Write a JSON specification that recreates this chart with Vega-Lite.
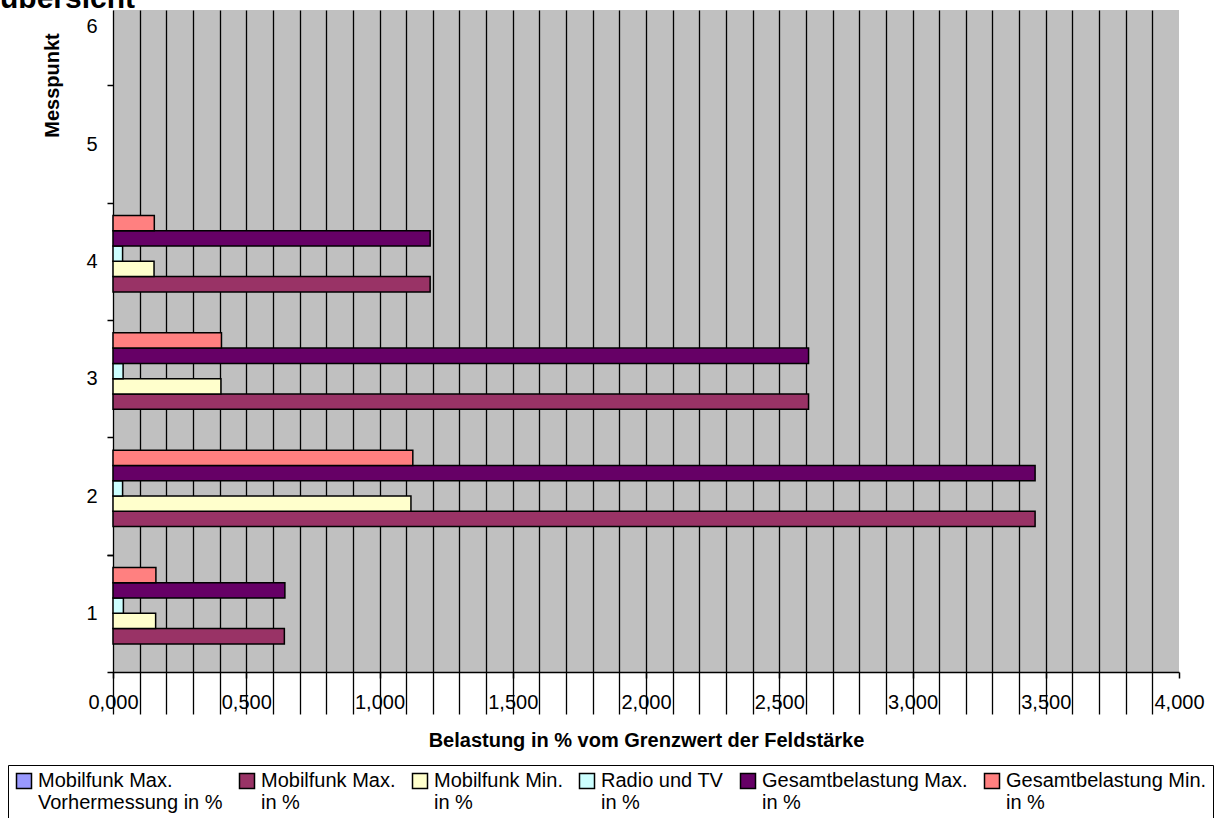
{
  "$schema": "https://vega.github.io/schema/vega-lite/v6.json",
  "width": 1066,
  "height": 662,
  "autosize": {"type": "none"},
  "padding": {"left": 113, "top": 10, "right": 39, "bottom": 146},
  "background": "white",
  "title": {"text": "übersicht", "anchor": "start", "frame": "group", "orient": "top", "baseline": "bottom", "offset": 0, "dx": -113, "dy": 44, "fontSize": 30, "fontWeight": "bold", "font": "Liberation Sans", "color": "black"},
  "config": {"font": "Liberation Sans", "view": {"fill": "#c0c0c0", "stroke": null}},
  "data": {"values": [
    {"Messpunkt": 1, "Reihe": "Mobilfunk Max. in %", "Belastung": 0.643},
    {"Messpunkt": 1, "Reihe": "Mobilfunk Min. in %", "Belastung": 0.160},
    {"Messpunkt": 1, "Reihe": "Radio und TV in %", "Belastung": 0.039},
    {"Messpunkt": 1, "Reihe": "Gesamtbelastung Max. in %", "Belastung": 0.645},
    {"Messpunkt": 1, "Reihe": "Gesamtbelastung Min. in %", "Belastung": 0.161},
    {"Messpunkt": 2, "Reihe": "Mobilfunk Max. in %", "Belastung": 3.46},
    {"Messpunkt": 2, "Reihe": "Mobilfunk Min. in %", "Belastung": 1.118},
    {"Messpunkt": 2, "Reihe": "Radio und TV in %", "Belastung": 0.036},
    {"Messpunkt": 2, "Reihe": "Gesamtbelastung Max. in %", "Belastung": 3.46},
    {"Messpunkt": 2, "Reihe": "Gesamtbelastung Min. in %", "Belastung": 1.125},
    {"Messpunkt": 3, "Reihe": "Mobilfunk Max. in %", "Belastung": 2.61},
    {"Messpunkt": 3, "Reihe": "Mobilfunk Min. in %", "Belastung": 0.405},
    {"Messpunkt": 3, "Reihe": "Radio und TV in %", "Belastung": 0.038},
    {"Messpunkt": 3, "Reihe": "Gesamtbelastung Max. in %", "Belastung": 2.61},
    {"Messpunkt": 3, "Reihe": "Gesamtbelastung Min. in %", "Belastung": 0.407},
    {"Messpunkt": 4, "Reihe": "Mobilfunk Max. in %", "Belastung": 1.19},
    {"Messpunkt": 4, "Reihe": "Mobilfunk Min. in %", "Belastung": 0.154},
    {"Messpunkt": 4, "Reihe": "Radio und TV in %", "Belastung": 0.036},
    {"Messpunkt": 4, "Reihe": "Gesamtbelastung Max. in %", "Belastung": 1.19},
    {"Messpunkt": 4, "Reihe": "Gesamtbelastung Min. in %", "Belastung": 0.155}
  ]},
  "mark": {"type": "bar", "stroke": "black", "strokeWidth": 1.5},
  "encoding": {
    "x": {
      "field": "Belastung", "type": "quantitative",
      "scale": {"domain": [0, 4], "nice": false, "zero": true},
      "axis": {
        "title": "Belastung in % vom Grenzwert der Feldstärke",
        "titleFontSize": 20, "titleFontWeight": "bold", "titleColor": "black", "titlePadding": 18,
        "values": [0, 0.1, 0.2, 0.3, 0.4, 0.5, 0.6, 0.7, 0.8, 0.9, 1, 1.1, 1.2, 1.3, 1.4, 1.5, 1.6, 1.7, 1.8, 1.9, 2, 2.1, 2.2, 2.3, 2.4, 2.5, 2.6, 2.7, 2.8, 2.9, 3, 3.1, 3.2, 3.3, 3.4, 3.5, 3.6, 3.7, 3.8, 3.9, 4],
        "labelExpr": "abs(datum.value*2 - round(datum.value*2)) < 0.001 ? replace(format(datum.value, '.3f'), '.', ',') : ''",
        "labelFontSize": 20, "labelColor": "black", "labelPadding": 14,
        "labelOverlap": false, "labelFlush": false, "labelBound": false,
        "tickSize": 6, "tickColor": "black", "tickWidth": 1.5,
        "tickOpacity": {"condition": {"test": "abs(datum.value*2 - round(datum.value*2)) > 0.001", "value": 0}, "value": 1},
        "grid": true, "gridColor": "black", "gridWidth": 1.3,
        "gridOpacity": {"condition": {"test": "datum.value > 3.95", "value": 0}, "value": 1},
        "domainColor": "black", "domainWidth": 1.5
      }
    },
    "y": {
      "field": "Messpunkt", "type": "ordinal",
      "scale": {"domain": [1, 2, 3, 4, 5, 6], "range": [662, -42], "paddingInner": 0, "paddingOuter": 0},
      "axis": {
        "title": "Messpunkt", "titleFontSize": 20, "titleFontWeight": "bold", "titleColor": "black",
        "titleX": -61, "titleY": 75, "titleAngle": -90, "titleAlign": "center", "titleBaseline": "middle",
        "labelFontSize": 20, "labelColor": "black", "labelPadding": 10, "labelAngle": 0,
        "tickBand": "extent", "tickSize": 6, "tickColor": "black", "tickWidth": 1.5,
        "domain": false, "grid": false
      }
    },
    "yOffset": {
      "field": "Reihe", "type": "nominal",
      "scale": {"domain": ["Gesamtbelastung Min. in %", "Gesamtbelastung Max. in %", "Radio und TV in %", "Mobilfunk Min. in %", "Mobilfunk Max. in %", "Mobilfunk Max. Vorhermessung in %"], "paddingInner": 0, "paddingOuter": 0.84}
    },
    "color": {
      "field": "Reihe", "type": "nominal",
      "scale": {
        "domain": ["Mobilfunk Max. Vorhermessung in %", "Mobilfunk Max. in %", "Mobilfunk Min. in %", "Radio und TV in %", "Gesamtbelastung Max. in %", "Gesamtbelastung Min. in %"],
        "range": ["#9999FF", "#993366", "#FFFFCC", "#CCFFFF", "#660066", "#FF8080"]
      },
      "legend": {
        "orient": "none", "legendX": -105, "legendY": 755,
        "direction": "horizontal", "columns": 6, "title": null,
        "symbolType": "square", "symbolSize": 225, "symbolStrokeColor": "black", "symbolStrokeWidth": 1.5,
        "labelFontSize": 20, "labelColor": "black", "labelLimit": 0, "labelOffset": 4,
        "labelExpr": "datum.label == 'Mobilfunk Max. Vorhermessung in %' ? ['Mobilfunk Max.', 'Vorhermessung in %'] : [replace(datum.label, ' in %', ''), 'in %']",
        "columnPadding": 13, "padding": 6,
        "strokeColor": "black", "fillColor": "white"
      }
    }
  }
}
